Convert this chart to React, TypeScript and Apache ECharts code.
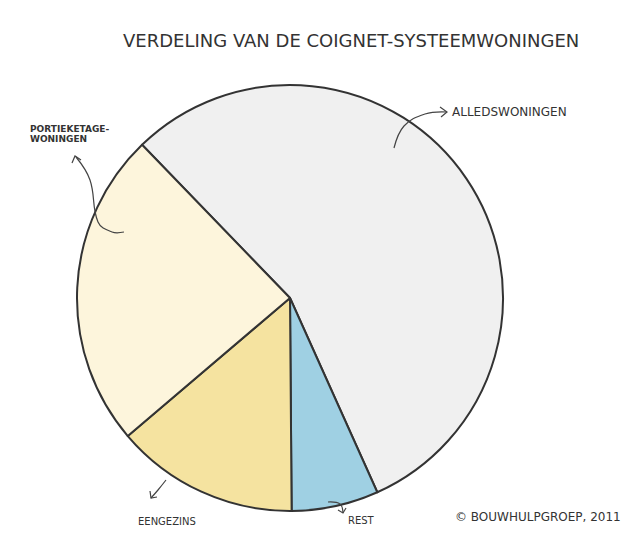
import React, { useEffect, useRef } from "react";
import * as echarts from "echarts";

const categories = ["ALLEDSWONINGEN", "REST", "EENGEZINS", "PORTIEKETAGE-\nWONINGEN"];
const values = [55.5, 6.6, 13.9, 24.0];
const colors = ["#f0f0f0", "#9fd0e3", "#f5e3a0", "#fdf5dc"];
const labelSizes = [12, 10, 10, 9];
const titleText = "VERDELING VAN DE COIGNET-SYSTEEMWONINGEN";
const creditText = "© BOUWHULPGROEP, 2011";

const labelPos: Record<number, { x: number; y: number }> = {
  0: { x: 452, y: 112 },
  1: { x: 348, y: 520 },
  2: { x: 138, y: 521 },
  3: { x: 30, y: 134 },
};

// hand-drawn style leader curves (annotation only)
const leaders: { pts: number[][]; head: number[][] }[] = [
  { pts: [[394, 148], [404, 126], [425, 114], [447, 112]], head: [[440, 107], [447, 112], [441, 117]] },
  { pts: [[76, 157], [90, 180], [98, 222], [112, 232], [124, 232]], head: [[72, 163], [75, 156], [81, 160]] },
  { pts: [[166, 480], [158, 490], [151, 498]], head: [[150, 491], [151, 498], [157, 497]] },
  { pts: [[328, 502], [340, 504], [343, 513]], head: [[338, 510], [343, 513], [346, 508]] },
];

export default function App() {
  const ref = useRef<HTMLDivElement>(null);
  useEffect(() => {
    document.body.style.margin = "0";
    const chart = echarts.init(ref.current!, null, { renderer: "svg" });
    const lineStyle = { stroke: "#444", lineWidth: 1.2, fill: null };
    const graphics: any[] = [
      {
        type: "text",
        left: 455,
        top: 511,
        style: { text: creditText, font: "12px 'DejaVu Sans'", fill: "#333" },
      },
    ];
    leaders.forEach((l) => {
      graphics.push({ type: "polyline", z: 10, shape: { points: l.pts, smooth: 0.4 }, style: lineStyle });
      graphics.push({ type: "polyline", z: 10, shape: { points: l.head }, style: lineStyle });
    });
    chart.setOption({
      animation: false,
      backgroundColor: "#ffffff",
      title: {
        text: titleText,
        left: 118,
        top: 26,
        textStyle: { fontFamily: "DejaVu Sans", fontSize: 18, fontWeight: "normal", color: "#333" },
      },
      graphic: graphics,
      series: [
        {
          type: "pie",
          center: [290, 298],
          radius: 213,
          startAngle: 134,
          clockwise: true,
          data: categories.map((c, i) => ({
            name: c,
            value: values[i],
            itemStyle: { color: colors[i] },
            label: {
              fontSize: labelSizes[i],
              lineHeight: labelSizes[i] + 1,
              fontWeight: i === 3 ? "bold" : "normal",
            },
          })),
          itemStyle: { borderColor: "#333", borderWidth: 2 },
          label: {
            show: true,
            formatter: "{b}",
            color: "#333",
            fontFamily: "DejaVu Sans",
            overflow: "none",
            width: 200,
          },
          labelLine: { show: false },
          labelLayout: (p: any) => {
            const pos = labelPos[p.dataIndex];
            return { x: pos.x, y: pos.y, align: "left", verticalAlign: "middle" };
          },
        },
      ],
    });
    return () => chart.dispose();
  }, []);
  return <div ref={ref} style={{ width: 643, height: 540 }} />;
}
